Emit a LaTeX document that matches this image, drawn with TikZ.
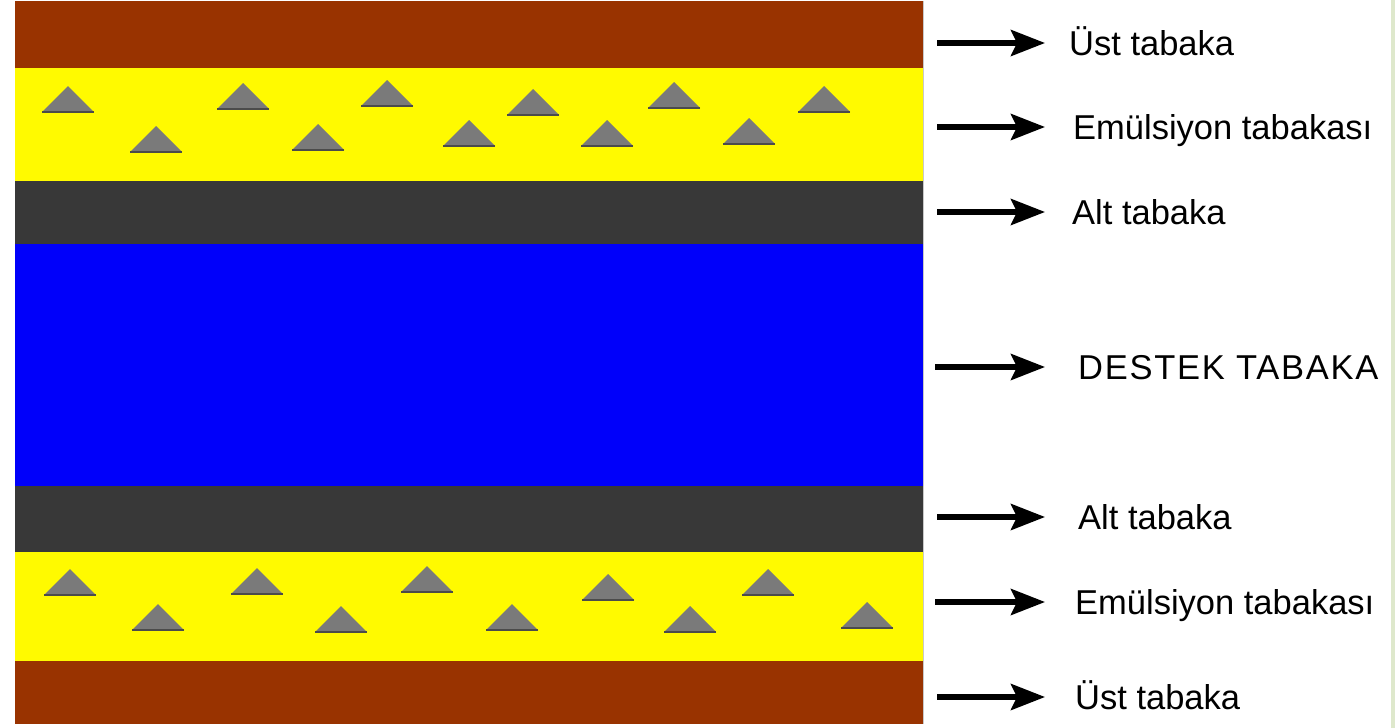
\documentclass[tikz,border=0pt]{standalone}
\usepackage{fontspec}
\setmainfont{Liberation Sans}
\usetikzlibrary{arrows.meta}
\definecolor{brownL}{RGB}{153,51,0}
\definecolor{yellowL}{RGB}{255,250,0}
\definecolor{darkL}{RGB}{56,56,56}
\definecolor{blueL}{RGB}{0,0,250}
\definecolor{grainC}{RGB}{122,122,122}
\definecolor{grainE}{RGB}{75,75,75}
\definecolor{edgegreen}{RGB}{222,232,204}
\definecolor{frameC}{RGB}{200,200,200}
\begin{document}
\begin{tikzpicture}[x=1pt,y=-1pt,
  lbl/.style={inner sep=0pt, font=\fontsize{34.5}{40}\selectfont, text=black},
  arr/.style={line width=5.5pt, -{Stealth[length=34pt,width=26pt,inset=6pt]}},
  grain/.pic={
    \fill[grainC] (-26,26) -- (0,0) -- (26,26) -- cycle;
    \draw[grainE, line width=1.4pt] (-26,26) -- (26,26);
  }]
\useasboundingbox (0,0) rectangle (1395,728);
\fill[white] (0,0) rectangle (1395,728);
\fill[edgegreen] (1391,0) rectangle (1395,728);
% layers
\fill[brownL]  (15,1)   rectangle (923,68);
\fill[yellowL] (15,68)  rectangle (923,181);
\fill[darkL]   (15,181) rectangle (923,244);
\fill[blueL]   (15,244) rectangle (923,486);
\fill[darkL]   (15,486) rectangle (923,552);
\fill[yellowL] (15,552) rectangle (923,661);
\fill[brownL]  (15,661) rectangle (923,724);
\draw[frameC, line width=0.8pt] (923.4,1) -- (923.4,724);
% grains, upper emulsion
\foreach \x/\y in {68/86,243/83,387/80,533/89,674/82,824/86,
                   156/126,318/124,469/120,607/120,749/118}
  \pic at (\x,\y) {grain};
% grains, lower emulsion
\foreach \x/\y in {70/569,257/568,427/566,608/574,768/569,
                   158/604,341/606,512/604,690/606,867/602}
  \pic at (\x,\y) {grain};
% labels
\node[lbl, anchor=base west] (l1) at (1069,55)  {Üst tabaka};
\node[lbl, anchor=base west] (l2) at (1073,139) {Emülsiyon tabakası};
\node[lbl, anchor=base west] (l3) at (1072,224) {Alt tabaka};
\node[lbl, anchor=base west] (l4) at (1078,379) {\addfontfeature{LetterSpace=5}DESTEK TABAKA};
\node[lbl, anchor=base west] (l5) at (1078,529) {Alt tabaka};
\node[lbl, anchor=base west] (l6) at (1075,614) {Emülsiyon tabakası};
\node[lbl, anchor=base west] (l7) at (1075,709) {Üst tabaka};
% arrow starts
\coordinate (s1) at (937,43);
\coordinate (s2) at (937,127);
\coordinate (s3) at (937,212);
\coordinate (s4) at (935,367);
\coordinate (s5) at (937,517);
\coordinate (s6) at (935,602);
\coordinate (s7) at (937,697);
\draw[arr, shorten >=24pt] (s1) -- (s1 -| l1.west);
\draw[arr, shorten >=28pt] (s2) -- (s2 -| l2.west);
\draw[arr, shorten >=27pt] (s3) -- (s3 -| l3.west);
\draw[arr, shorten >=33pt] (s4) -- (s4 -| l4.west);
\draw[arr, shorten >=33pt] (s5) -- (s5 -| l5.west);
\draw[arr, shorten >=30pt] (s6) -- (s6 -| l6.west);
\draw[arr, shorten >=30pt] (s7) -- (s7 -| l7.west);
\end{tikzpicture}
\end{document}
